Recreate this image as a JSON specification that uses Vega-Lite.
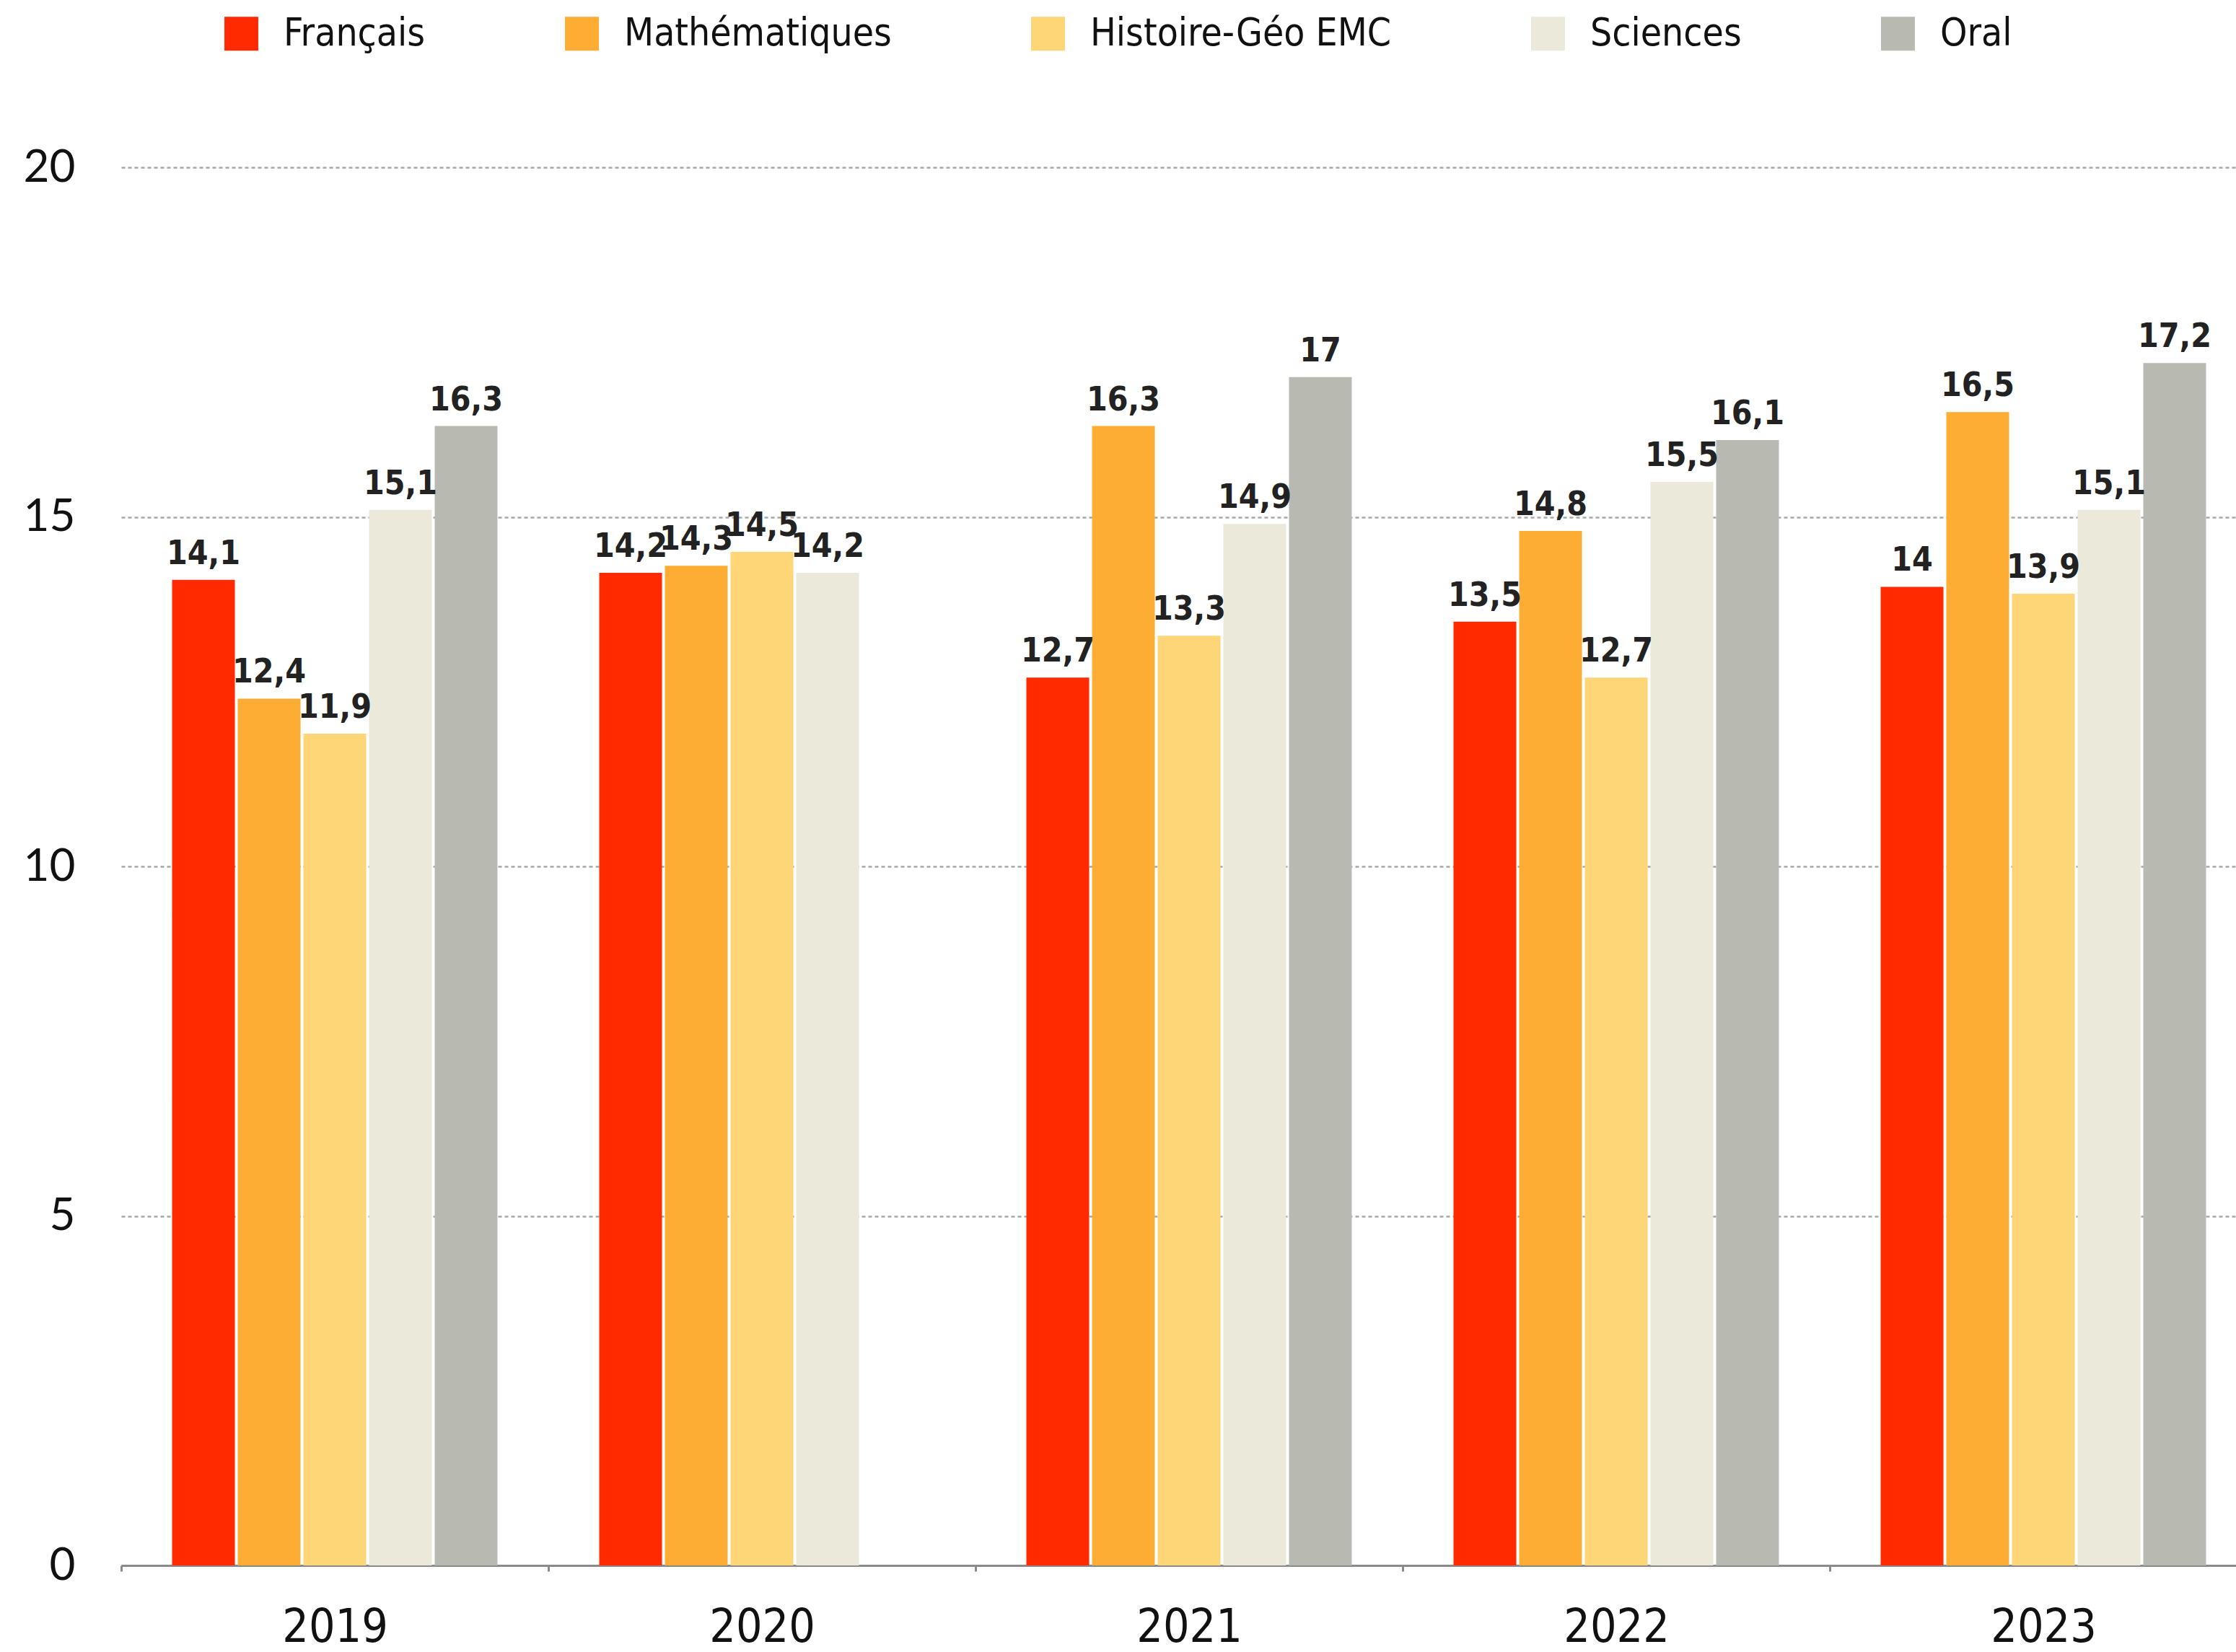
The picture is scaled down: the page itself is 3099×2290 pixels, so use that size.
{
  "$schema": "https://vega.github.io/schema/vega-lite/v6.json",
  "autosize": "none",
  "width": 2931,
  "height": 1938,
  "padding": {"left": 168, "top": 232, "right": 0, "bottom": 120},
  "background": "white",
  "config": {
    "view": {"stroke": null},
    "locale": {"number": {"decimal": ",", "thousands": " ", "grouping": [3], "currency": ["", " €"]}}
  },
  "data": {"values": [
    {"annee": "2019", "matiere": "Français", "note": 14.1},
    {"annee": "2019", "matiere": "Mathématiques", "note": 12.4},
    {"annee": "2019", "matiere": "Histoire-Géo EMC", "note": 11.9},
    {"annee": "2019", "matiere": "Sciences", "note": 15.1},
    {"annee": "2019", "matiere": "Oral", "note": 16.3},
    {"annee": "2020", "matiere": "Français", "note": 14.2},
    {"annee": "2020", "matiere": "Mathématiques", "note": 14.3},
    {"annee": "2020", "matiere": "Histoire-Géo EMC", "note": 14.5},
    {"annee": "2020", "matiere": "Sciences", "note": 14.2},
    {"annee": "2021", "matiere": "Français", "note": 12.7},
    {"annee": "2021", "matiere": "Mathématiques", "note": 16.3},
    {"annee": "2021", "matiere": "Histoire-Géo EMC", "note": 13.3},
    {"annee": "2021", "matiere": "Sciences", "note": 14.9},
    {"annee": "2021", "matiere": "Oral", "note": 17},
    {"annee": "2022", "matiere": "Français", "note": 13.5},
    {"annee": "2022", "matiere": "Mathématiques", "note": 14.8},
    {"annee": "2022", "matiere": "Histoire-Géo EMC", "note": 12.7},
    {"annee": "2022", "matiere": "Sciences", "note": 15.5},
    {"annee": "2022", "matiere": "Oral", "note": 16.1},
    {"annee": "2023", "matiere": "Français", "note": 14},
    {"annee": "2023", "matiere": "Mathématiques", "note": 16.5},
    {"annee": "2023", "matiere": "Histoire-Géo EMC", "note": 13.9},
    {"annee": "2023", "matiere": "Sciences", "note": 15.1},
    {"annee": "2023", "matiere": "Oral", "note": 17.2}
  ]},
  "encoding": {
    "x": {
      "field": "annee", "type": "nominal", "title": null,
      "scale": {"range": [0, 2960], "paddingInner": 0, "paddingOuter": 0},
      "axis": {
        "labelAngle": 0, "labelFont": "Liberation Sans Narrow, DejaVu Sans Condensed, Roboto", "labelFontSize": 64,
        "labelColor": "#111", "labelPadding": 46, "domainColor": "#8a8a8a", "domainWidth": 3,
        "tickColor": "#8a8a8a", "tickWidth": 3, "tickSize": 8, "tickBand": "extent", "grid": false
      }
    },
    "xOffset": {
      "field": "matiere", "type": "nominal",
      "sort": ["Français", "Mathématiques", "Histoire-Géo EMC", "Sciences", "Oral"],
      "scale": {"paddingInner": 0.044, "paddingOuter": 0.775}
    },
    "y": {
      "field": "note", "type": "quantitative", "title": null,
      "scale": {"domain": [0, 20], "nice": false},
      "axis": {
        "values": [0, 5, 10, 15, 20], "domain": false, "ticks": false,
        "labelFont": "Lato, Noto Sans", "labelFontSize": 62, "labelColor": "#111", "labelPadding": 64,
        "gridColor": "#a8a8a8", "gridDash": [5, 4], "gridWidth": 2.5
      }
    }
  },
  "layer": [
    {
      "mark": {"type": "bar"},
      "encoding": {
        "color": {
          "field": "matiere", "type": "nominal", "title": null,
          "sort": ["Français", "Mathématiques", "Histoire-Géo EMC", "Sciences", "Oral"],
          "scale": {
            "domain": ["Français", "Mathématiques", "Histoire-Géo EMC", "Sciences", "Oral"],
            "range": ["#ff2a00", "#fdac34", "#fed577", "#ebe9d9", "#b8bab1"]
          },
          "legend": {
            "orient": "none", "direction": "horizontal", "columns": 5,
            "legendX": 140, "legendY": -212,
            "symbolType": "square", "symbolSize": 2200, "symbolStrokeWidth": 0,
            "labelFont": "Liberation Sans Narrow, DejaVu Sans Condensed, Roboto", "labelFontSize": 53,
            "labelColor": "#111", "labelOffset": 32, "columnPadding": 190, "labelLimit": 0
          }
        }
      }
    },
    {
      "mark": {
        "type": "text", "baseline": "bottom", "align": "center", "dy": -12,
        "font": "Liberation Sans Narrow, DejaVu Sans Condensed, Roboto", "fontWeight": "bold",
        "fontSize": 46, "color": "#222"
      },
      "encoding": {
        "text": {"field": "note", "type": "quantitative", "format": "~f"}
      }
    }
  ]
}
